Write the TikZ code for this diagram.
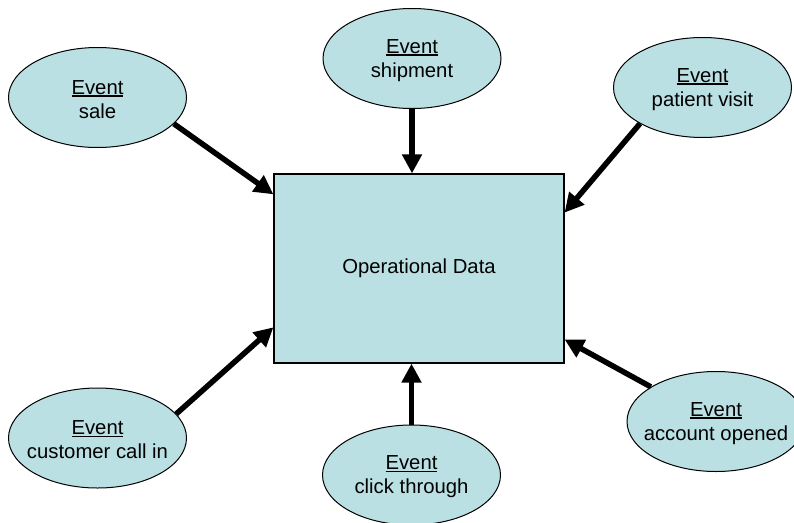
\documentclass[tikz,border=0pt]{standalone}
\usepackage{fontspec}
\setmainfont{Liberation Sans}
\usetikzlibrary{arrows.meta,shapes.geometric}
\definecolor{evfill}{RGB}{187,224,227}
\newcommand\ulevent{\setbox0\hbox{Event}\rlap{\rule[-2.4pt]{\wd0}{1.3pt}}\box0}
\begin{document}
\begin{tikzpicture}[x=1pt,y=-1pt,
 evshape/.style={ellipse,draw=black,line width=1pt,fill=evfill,minimum width=178pt,minimum height=100pt,inner sep=0pt},
 evtext/.style={align=center,font=\fontsize{20.3}{24}\selectfont,inner sep=0pt,yshift=-2pt},
 databox/.style={rectangle,draw=black,line width=1.2pt,fill=evfill,minimum width=290pt,minimum height=189pt,font=\fontsize{20.3}{24}\selectfont},
 flow/.style={line width=5.5pt,-{Triangle[length=19pt,width=19pt]}}]
\useasboundingbox (0,0) rectangle (794,522);
\node[databox] (box) at (419,268.5) {Operational Data};
\node[evshape] (sale) at (97.5,97.5) {};
\node[evtext] (sale-t) at (sale.center) {\ulevent\\sale};
\node[evshape] (ship) at (412,58.5) {};
\node[evtext] (ship-t) at (ship.center) {\ulevent\\shipment};
\node[evshape] (visit) at (702.5,87.5) {};
\node[evtext] (visit-t) at (visit.center) {\ulevent\\patient visit};
\node[evshape] (call) at (97.5,438) {};
\node[evtext] (call-t) at (call.center) {\ulevent\\customer call in};
\node[evshape] (click) at (411.5,475) {};
\node[evtext] (click-t) at (click.center) {\ulevent\\click through};
\node[evshape] (acct) at (716,421.5) {};
\node[evtext] (acct-t) at (acct.center) {\ulevent\\account opened};
\draw[flow] (sale.-19.5) -- (box.153.75);
\draw[flow] (ship.south) -- (ship.south |- box.north);
\draw[flow] (visit.-150.8) -- (box.21.8);
\draw[flow] (call.17.9) -- (box.-158.4);
\draw[flow] (click.north) -- (click.north |- box.south);
\draw[flow] (acct.152) -- (box.-26.1);
\end{tikzpicture}
\end{document}
